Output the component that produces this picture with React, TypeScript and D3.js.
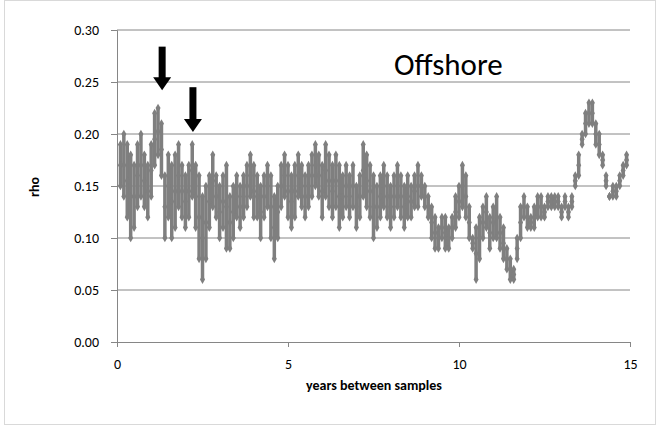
import { useEffect, useRef } from "react"
import * as d3 from "d3"

// sample position (years) and upper / lower envelope of rho at each position
const years = d3.range(1, 150).map((i) => i / 10)
const rhoHigh = [
  .19, .20, .19, .18, .17, .19, .20, .18, .17, .19, .22, .225, .21, .16, .18, .17, .18, .19, .17, .16,
  .17, .19, .17, .16, .14, .15, .16, .18, .16, .15, .16, .17, .14, .15, .16, .15, .16, .17, .18, .17,
  .16, .15, .16, .17, .16, .14, .15, .17, .18, .17, .16, .17, .18, .17, .16, .17, .18, .19, .18, .17,
  .19, .18, .17, .18, .17, .16, .17, .16, .17, .15, .16, .19, .18, .17, .16, .15, .16, .17, .16, .15,
  .16, .17, .16, .15, .16, .15, .16, .17, .16, .15, .14, .13, .12, .11, .12, .12, .11, .12, .14, .15,
  .17, .16, .13, .10, .11, .12, .13, .14, .12, .13, .14, .12, .11, .09, .08, .07, .10, .13, .14, .13,
  .12, .13, .14, .14, .13, .14, .14, .14, .14, .13, .14, .13, .14, .16, .18, .20, .22, .23, .23, .21,
  .20, .18, .16, .14, .15, .15, .16, .17, .18,
]
const rhoLow = [
  .15, .14, .12, .10, .11, .13, .14, .13, .12, .14, .17, .18, .16, .10, .12, .10, .11, .13, .12, .11,
  .12, .14, .11, .08, .06, .08, .11, .13, .12, .10, .11, .09, .09, .10, .12, .11, .12, .13, .14, .12,
  .12, .10, .12, .13, .10, .08, .10, .13, .14, .12, .11, .12, .14, .13, .12, .13, .14, .15, .14, .12,
  .14, .13, .12, .13, .11, .12, .13, .12, .13, .11, .12, .14, .13, .12, .10, .11, .12, .13, .12, .11,
  .12, .13, .12, .11, .12, .12, .13, .13, .14, .13, .12, .10, .09, .09, .10, .09, .09, .10, .11, .12,
  .13, .12, .10, .09, .06, .08, .10, .11, .09, .10, .10, .09, .08, .07, .06, .06, .08, .10, .12, .11,
  .11, .11, .12, .12, .12, .13, .13, .13, .13, .12, .13, .12, .13, .15, .16, .19, .20, .21, .21, .19,
  .18, .17, .15, .14, .14, .14, .15, .16, .17,
]
const yTicks = [0, 0.05, 0.1, 0.15, 0.2, 0.25, 0.3]
const xTicks = [0, 5, 10, 15]
const arrowYears = [1.32, 2.22]
const arrowTops = [0.284, 0.245]
const arrowTips = [0.242, 0.202]

const font = "Carlito, 'Liberation Sans', Arial, sans-serif"

export default function App() {
  const ref = useRef<SVGSVGElement>(null)

  useEffect(() => {
    if (!ref.current) return
    const svg = d3.select(ref.current)
    svg.selectAll("*").remove()

    const x = d3.scaleLinear().domain([0, 15]).range([117, 630])
    const y = d3.scaleLinear().domain([0, 0.3]).range([342, 30])

    svg.append("rect").attr("x", 4.5).attr("y", 0.5).attr("width", 651).attr("height", 424)
      .attr("fill", "white").attr("stroke", "#d9d9d9")

    svg.selectAll(".grid").data(yTicks.slice(1)).enter().append("line")
      .attr("x1", 117).attr("x2", 630).attr("y1", (d) => y(d)).attr("y2", (d) => y(d))
      .attr("stroke", "#868686").attr("stroke-width", 1)

    const yAxis = svg.append("g").attr("transform", "translate(117,0)")
      .call(d3.axisLeft(y).tickValues(yTicks).tickFormat(d3.format(".2f")).tickSize(6).tickPadding(12))
    const xAxis = svg.append("g").attr("transform", "translate(0,342)")
      .call(d3.axisBottom(x).tickValues(xTicks).tickSize(5).tickPadding(12))
    for (const a of [yAxis, xAxis]) {
      a.select(".domain").attr("stroke", "#868686")
      a.selectAll("line").attr("stroke", "#868686")
      a.selectAll("text").style("font-family", font).style("font-size", "14px").attr("fill", "#000")
    }

    const sym = d3.symbol().type(d3.symbolDiamond).size(22)
    const pts = years.flatMap((yr, i) => [
      { yr, v: rhoHigh[i] },
      { yr, v: rhoLow[i] },
      { yr, v: (rhoHigh[i] + rhoLow[i]) / 2 },
    ])
    svg.selectAll(".seg").data(years).enter().append("line")
      .attr("x1", (d) => x(d)).attr("x2", (d) => x(d))
      .attr("y1", (d, i) => y(rhoHigh[i])).attr("y2", (d, i) => y(rhoLow[i]))
      .attr("stroke", "#7f7f7f").attr("stroke-width", 3.5)
    svg.selectAll(".pt").data(pts).enter().append("path")
      .attr("d", sym).attr("transform", (d) => `translate(${x(d.yr)},${y(d.v)})`)
      .attr("fill", "#7f7f7f")

    arrowYears.forEach((yr, i) => {
      const cx = x(yr)
      svg.append("rect").attr("x", cx - 3.5).attr("y", y(arrowTops[i])).attr("width", 7)
        .attr("height", y(arrowTips[i]) - y(arrowTops[i]) - 12).attr("fill", "#000")
      svg.append("path").attr("d",
        `M${cx - 9},${y(arrowTips[i]) - 13}L${cx + 9},${y(arrowTips[i]) - 13}L${cx},${y(arrowTips[i])}Z`)
        .attr("fill", "#000")
    })

    svg.append("text").attr("x", 394).attr("y", 75).text("Offshore")
      .style("font-family", font).style("font-size", "31px")
    svg.append("text").attr("transform", "translate(39,187) rotate(-90)").attr("text-anchor", "middle")
      .text("rho").style("font-family", font).style("font-size", "14px").style("font-weight", "bold")
    svg.append("text").attr("x", 374).attr("y", 390).attr("text-anchor", "middle")
      .text("years between samples").style("font-family", font).style("font-size", "14px")
      .style("font-weight", "bold")
  }, [])

  return <svg ref={ref} width={660} height={427} style={{ position: "absolute", left: 0, top: 0 }} />
}
